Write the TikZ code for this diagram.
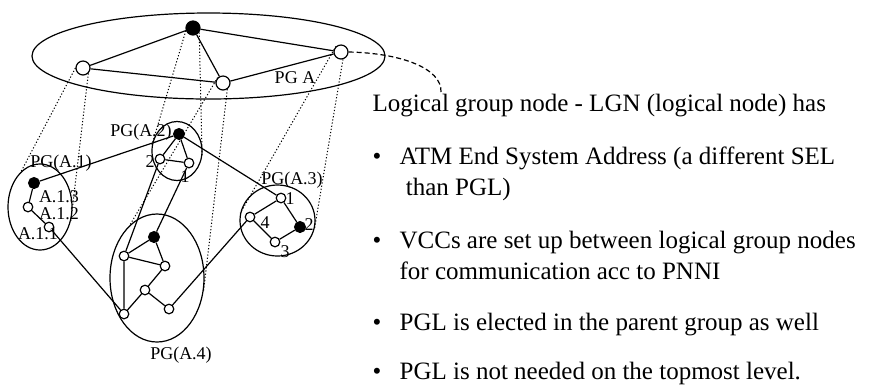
\documentclass[tikz,border=0pt]{standalone}
\usepackage{fontspec}
\setmainfont{Liberation Serif}
\usetikzlibrary{positioning, shapes.geometric}

\begin{document}
\begin{tikzpicture}[
  x=0.5pt, y=-0.5pt,
  line width=0.6pt,
  grp/.style={ellipse, draw, inner sep=0pt},
  lgn/.style={circle, draw, fill=white, inner sep=0pt, minimum size=7pt},
  lgnpgl/.style={lgn, fill=black},
  nd/.style={circle, draw, fill=white, inner sep=0pt, minimum size=4.8pt},
  pgl/.style={nd, fill=black, minimum size=5.4pt},
  proj/.style={line width=0.5pt, dash pattern=on 0.6pt off 1pt},
  lbl/.style={font=\fontsize{9}{10}\selectfont, inner sep=0pt},
  txt/.style={font=\fontsize{12.5}{15}\selectfont, anchor=base west, inner sep=0pt}
]
  \useasboundingbox (0,0) rectangle (893,388);

  \node[grp, minimum width=176.5pt, minimum height=43pt] (gA) at (208.5,56) {};
  \node[lgnpgl] (tA2) at (193,28) {};
  \node[lgn] (tA1) at (83,68) {};
  \node[lgn] (tA4) at (223,83) {};
  \node[lgn] (tA3) at (341,52) {};
  \node[lbl] (lA) at (295,78) {PG A};
  \draw (tA2) -- (tA1) (tA2) -- (tA4) (tA2) -- (tA3) (tA1) -- (tA4) (tA4) -- (tA3);

  \node[grp, minimum width=32pt, minimum height=43pt] (gA1) at (40,207) {};
  \node[pgl] (a13) at (34,183) {};
  \node[nd] (a12) at (28,207) {};
  \node[nd] (a11) at (49,227) {};
  \node[lbl] (lA1) at (61,163) {PG(A.1)};
  \node[lbl] (l13) at (59,197) {A.1.3};
  \node[lbl] (l12) at (59,214) {A.1.2};
  \node[lbl] (l11) at (38,234) {A.1.1};
  \draw (a13) -- (a12) -- (a11);

  \node[grp, minimum width=25pt, minimum height=29.5pt] (gA2) at (177,151) {};
  \node[pgl] (a2p) at (179,134) {};
  \node[nd] (a22) at (160,159) {};
  \node[nd] (a21) at (189,163) {};
  \node[lbl] (lA2) at (141,132) {PG(A.2)};
  \node[lbl] (l22) at (150,162) {2};
  \node[lbl] (l21) at (185,177) {1};
  \draw (a2p) -- (a22) -- (a21) -- (a2p);

  \node[grp, minimum width=37.5pt, minimum height=35.5pt] (gA3) at (277.5,220.5) {};
  \node[nd] (a31) at (281,198) {};
  \node[pgl] (a32) at (300,227) {};
  \node[nd] (a33) at (275,242) {};
  \node[nd] (a34) at (250,217) {};
  \node[lbl] (lA3) at (292,180) {PG(A.3)};
  \node[lbl] (l31) at (290,199) {1};
  \node[lbl] (l32) at (309,225) {2};
  \node[lbl] (l33) at (285,252) {3};
  \node[lbl] (l34) at (265,223) {4};
  \draw (a31) -- (a34) -- (a33) -- (a32) -- (a31);

  \node[grp, minimum width=47pt, minimum height=64pt] (gA4) at (157,278) {};
  \node[pgl] (a4p) at (154,237) {};
  \node[nd] (a4a) at (124,256) {};
  \node[nd] (a4b) at (165,266) {};
  \node[nd] (a4c) at (145,290) {};
  \node[nd] (a4d) at (169,309) {};
  \node[nd] (a4e) at (124,314) {};
  \node[lbl] (lA4) at (181,355) {PG(A.4)};
  \draw (a4p) -- (a4a) -- (a4b) -- (a4p) (a4a) -- (a4e) -- (a4c) -- (a4b) (a4c) -- (a4d);

  \draw (a13) -- (a2p);
  \draw (a2p) -- (a31);
  \draw (a11) -- (a4e);
  \draw (a22) -- (a4a);
  \draw (a21) -- (a4p);
  \draw (a4d) -- (a34);

  \draw[proj] (tA1.west) -- (gA1.118);
  \draw[proj] (tA1.-45) -- (gA1.-25);
  \draw[proj] (tA2.200) -- (gA2.166);
  \draw[proj] (tA2.-35) -- (gA2.-13);
  \draw[proj] (tA4.135) -- (gA4.117);
  \draw[proj] (tA4.-55) -- (gA4.-17);
  \draw[proj] (tA3.132) -- (gA3.169);
  \draw[proj] (tA3.-75) -- (gA3.-14);

  \coordinate (lgnend) at (441,92);
  \draw[dash pattern=on 2.5pt off 1.5pt] (tA3.east) .. controls (400,53) and (442,68) .. (lgnend);

  \node[txt] (head) at (372,111) {Logical group node - LGN (logical node) has};
  \node[txt] (d1) at (372,164) {\textbullet};
  \node[txt] (t1) at (399,164) {ATM End System Address (a different SEL};
  \node[txt] (t1b) at (399,195) {\ than PGL)};
  \node[txt] (d2) at (372,248) {\textbullet};
  \node[txt] (t2) at (399,248) {VCCs are set up between logical group nodes};
  \node[txt] (t2b) at (399,279) {for communication acc to PNNI};
  \node[txt] (d3) at (372,330) {\textbullet};
  \node[txt] (t3) at (399,330) {PGL is elected in the parent group as well};
  \node[txt] (d4) at (372,379) {\textbullet};
  \node[txt] (t4) at (399,379) {PGL is not needed on the topmost level.};
\end{tikzpicture}
\end{document}
